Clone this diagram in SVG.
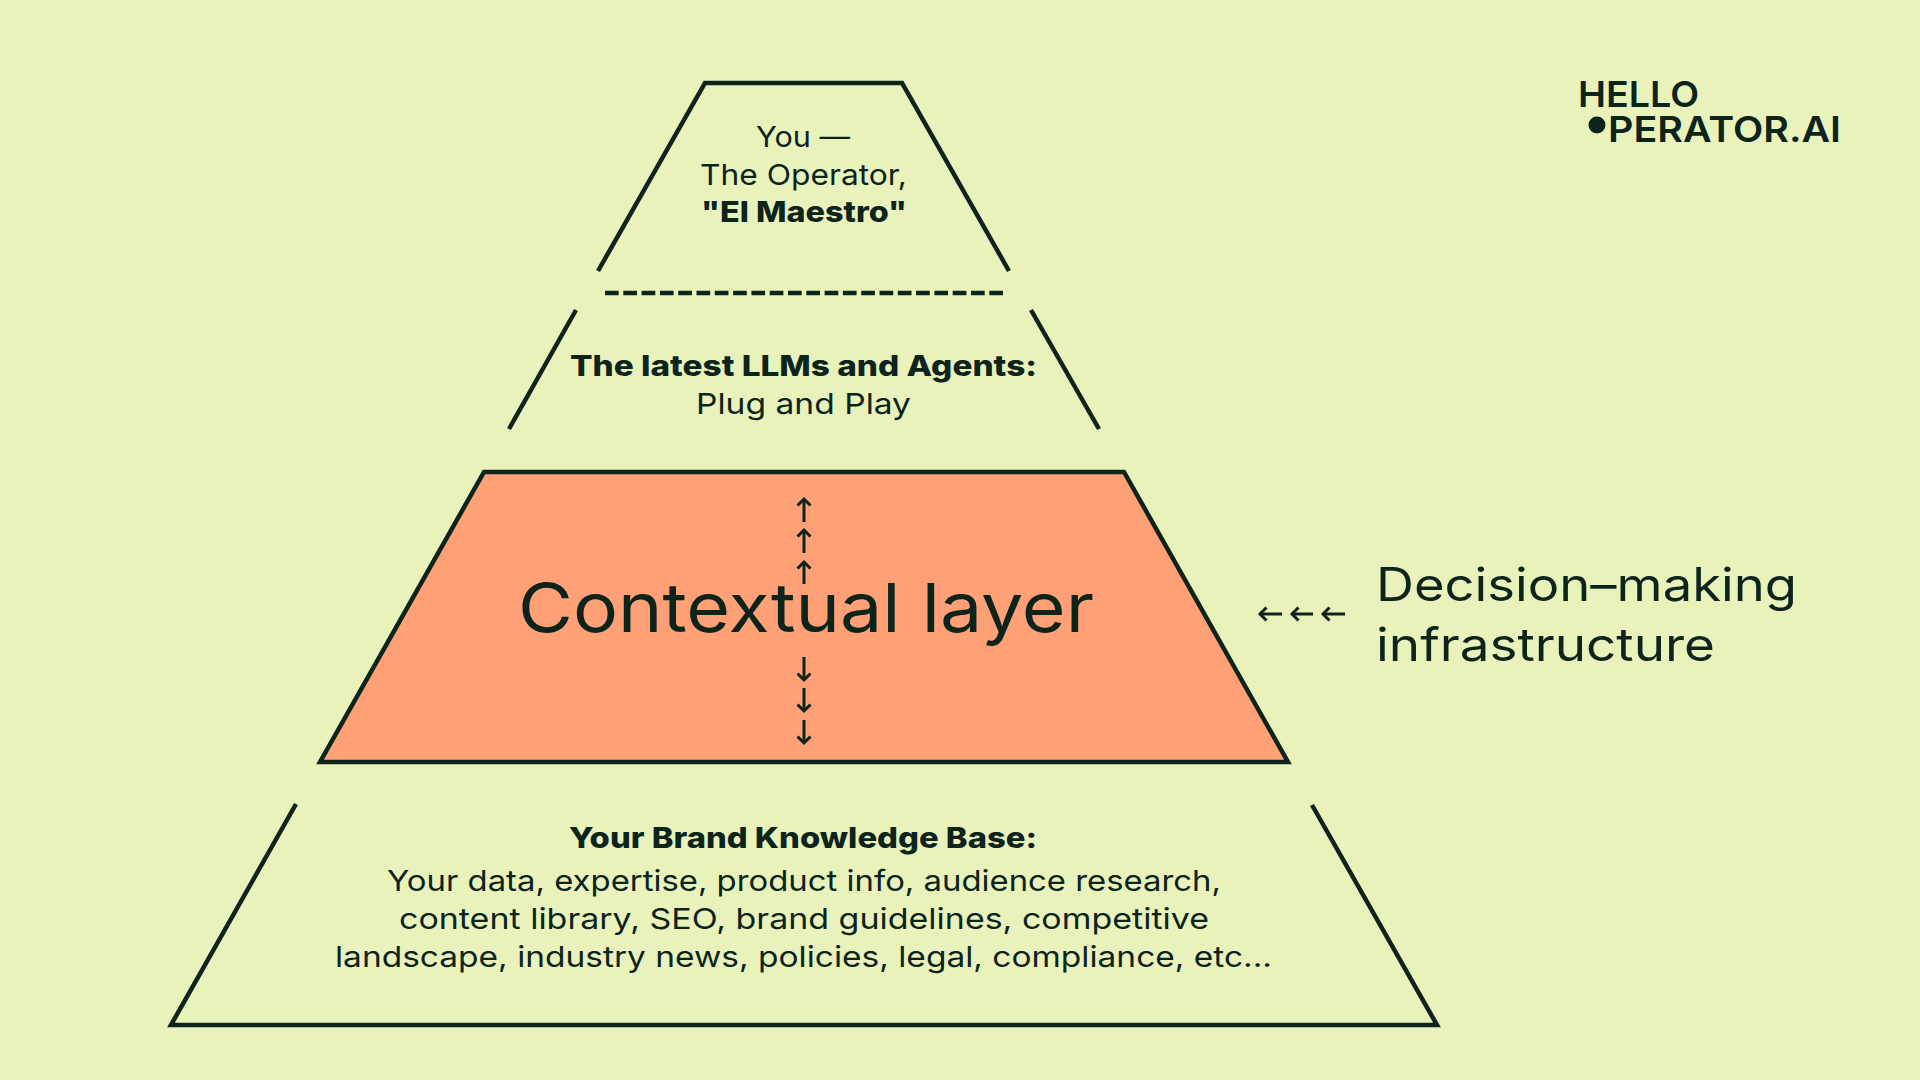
<svg xmlns="http://www.w3.org/2000/svg" width="1920" height="1080" viewBox="0 0 1920 1080">
<defs>
<style>
text{font-family:"Inter","Liberation Sans",sans-serif;fill:#0c241b;font-weight:400}
.s{font-size:29px}
.b{font-size:29px;font-weight:800}
.l{font-size:36px;font-weight:600}
.o{fill:none;stroke:#0c241b;stroke-width:4.500;stroke-linecap:butt;stroke-linejoin:miter}
.a{fill:none;stroke:#0c241b;stroke-width:3;marker-end:url(#h)}
</style>
<marker id="h" markerUnits="userSpaceOnUse" markerWidth="20" markerHeight="20" refX="10" refY="10" orient="auto"><path d="M3.500 3.500L10 10L3.500 16.500" fill="none" stroke="#0c241b" stroke-width="3"/></marker>
</defs>
<rect width="1920" height="1080" fill="#eaf2bc"/>
<g id="node-operator">
<path class="o" d="M598 271L705 83H902L1009 271"/>
<text class="s" x="756" y="146.500" textLength="94" lengthAdjust="spacingAndGlyphs">You —</text>
<text class="s" x="700" y="184.500" textLength="207" lengthAdjust="spacingAndGlyphs">The Operator,</text>
<text class="b" x="701" y="222" textLength="206" lengthAdjust="spacingAndGlyphs">"El Maestro"</text>
</g>
<g id="node-llms">
<path class="o" d="M576 310L509 429"/>
<path class="o" d="M1031 310L1099 429"/>
<text class="b" x="570" y="376" textLength="467" lengthAdjust="spacingAndGlyphs">The latest LLMs and Agents:</text>
<text class="s" x="696" y="414" textLength="215" lengthAdjust="spacingAndGlyphs">Plug and Play</text>
</g>
<g id="node-context">
<path d="M484 472H1124L1288 762H320Z" fill="#ffa076" stroke="#0c241b" stroke-width="4.500"/>
<text x="518" y="632" font-size="68" textLength="576" lengthAdjust="spacingAndGlyphs">Contextual layer</text>
</g>
<g id="node-brand">
<path class="o" d="M296 804L171 1025H1437L1312 805"/>
<text class="b" x="569" y="848" textLength="468" lengthAdjust="spacingAndGlyphs">Your Brand Knowledge Base:</text>
<text class="s" x="387" y="891" textLength="834" lengthAdjust="spacingAndGlyphs">Your data, expertise, product info, audience research,</text>
<text class="s" x="399" y="929" textLength="810" lengthAdjust="spacingAndGlyphs">content library, SEO, brand guidelines, competitive</text>
<text class="s" x="335" y="967" textLength="937" lengthAdjust="spacingAndGlyphs">landscape, industry news, policies, legal, compliance, etc...</text>
</g>
<g id="node-infrastructure">
<text x="1376" y="601" font-size="46" textLength="421" lengthAdjust="spacingAndGlyphs">Decision–making</text>
<text x="1376" y="661" font-size="46" textLength="339" lengthAdjust="spacingAndGlyphs">infrastructure</text>
</g>
<g id="node-logo">
<text class="l" x="1578" y="107" textLength="121" lengthAdjust="spacingAndGlyphs">HELLO</text>
<circle cx="1597" cy="125" r="8.500" fill="#0c241b"/>
<text class="l" x="1608" y="142" textLength="233" lengthAdjust="spacingAndGlyphs">PERATOR.AI</text>
</g>
<g id="connectors">
<path class="o" d="M605 293H1005" stroke-dasharray="13.700 4.600"/>
<path class="a" d="M804 522V499"/>
<path class="a" d="M804 553V530"/>
<path class="a" d="M804 584V562"/>
<path class="a" d="M804 657V680"/>
<path class="a" d="M804 688V711"/>
<path class="a" d="M804 720V743"/>
<path class="a" d="M1282 614H1260"/>
<path class="a" d="M1313 614H1292"/>
<path class="a" d="M1345 614H1323"/>
</g>
</svg>
